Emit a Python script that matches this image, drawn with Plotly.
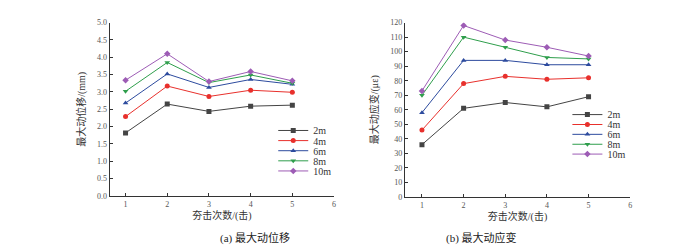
import plotly.graph_objects as go

hits = [1, 2, 3, 4, 5]
series_names = ["2m", "4m", "6m", "8m", "10m"]

disp_2m = [1.82, 2.65, 2.44, 2.59, 2.62]
disp_4m = [2.29, 3.17, 2.87, 3.05, 2.99]
disp_6m = [2.68, 3.52, 3.13, 3.36, 3.22]
disp_8m = [3.02, 3.85, 3.27, 3.49, 3.25]
disp_10m = [3.34, 4.10, 3.30, 3.59, 3.32]

strain_2m = [36, 61, 65, 62, 69]
strain_4m = [46, 78, 83, 81, 82]
strain_6m = [58, 94, 94, 91, 91]
strain_8m = [70, 110, 103, 96, 95]
strain_10m = [73, 118, 108, 103, 97]

x_ticks = [1, 2, 3, 4, 5, 6]

colors = ["#444444", "#e8302c", "#2d4b9e", "#2f9e4c", "#9d5cb5"]
symbols = ["square", "circle", "triangle-up", "triangle-down", "diamond"]

disp = [disp_2m, disp_4m, disp_6m, disp_8m, disp_10m]
strain = [strain_2m, strain_4m, strain_6m, strain_8m, strain_10m]

FONT = "Liberation Serif, Noto Sans CJK SC, serif"
H = 245

fig = go.Figure()
legends = {}
left_rows = [123, 133.5, 144, 154.5, 165]
right_rows = [106.5, 116.8, 127, 137.3, 147.5]

for i, (name, ys, c, s) in enumerate(zip(series_names, disp, colors, symbols)):
    lg = f"legend{i+2}"
    fig.add_trace(go.Scatter(x=hits, y=ys, name=name, mode="lines+markers",
                             line=dict(color=c, width=1),
                             marker=dict(symbol=s, size=5, color=c),
                             xaxis="x", yaxis="y", legend=lg, showlegend=True))
    legends[lg] = dict(x=266/700, y=1 - left_rows[i]/H, xanchor="left", yanchor="middle",
                       font=dict(size=10, family=FONT, color="#333333"),
                       bgcolor="rgba(0,0,0,0)", itemwidth=30)
for i, (name, ys, c, s) in enumerate(zip(series_names, strain, colors, symbols)):
    lg = f"legend{i+7}"
    fig.add_trace(go.Scatter(x=hits, y=ys, name=name, mode="lines+markers",
                             line=dict(color=c, width=1),
                             marker=dict(symbol=s, size=5, color=c),
                             xaxis="x2", yaxis="y2", legend=lg, showlegend=True))
    legends[lg] = dict(x=561/700, y=1 - right_rows[i]/H, xanchor="left", yanchor="middle",
                       font=dict(size=10, family=FONT, color="#333333"),
                       bgcolor="rgba(0,0,0,0)", itemwidth=30)

axis_common = dict(showline=True, linecolor="#333333", linewidth=1,
                   ticks="inside", ticklen=3, tickcolor="#333333",
                   showgrid=False, zeroline=False,
                   tickfont=dict(family=FONT, size=8, color="#555555"))

fig.update_layout(
    width=700, height=245,
    margin=dict(l=0, r=0, t=0, b=0),
    paper_bgcolor="white", plot_bgcolor="white",
    font=dict(family=FONT, color="#333333"),
    showlegend=True,
    xaxis=dict(domain=[0.1457, 0.4671], range=[0.62, 6], tickvals=x_ticks,
               title=dict(text="夯击次数/(击)", font=dict(size=10), standoff=0),
               anchor="y", **axis_common),
    yaxis=dict(domain=[0.2204, 0.9551], range=[0, 5], dtick=0.5, tickformat=".1f",
               title=dict(text="最大动位移/(mm)", font=dict(size=10), standoff=9),
               anchor="x", **axis_common),
    xaxis2=dict(domain=[0.5686, 0.8914], range=[0.59, 6], tickvals=x_ticks,
                title=dict(text="夯击次数/(击)", font=dict(size=10), standoff=0),
                anchor="y2", **axis_common),
    yaxis2=dict(domain=[0.2163, 0.9551], range=[0, 120], dtick=10,
                title=dict(text="最大动应变/(με)", font=dict(size=10), standoff=9),
                anchor="x2", **axis_common),
    annotations=[
        dict(text="(a) 最大动位移", x=211/700, y=1-235/245, xref="paper", yref="paper",
             yanchor="middle", showarrow=False, font=dict(size=11, family=FONT, color="#222222")),
        dict(text="(b) 最大动应变", x=512/700, y=1-235/245, xref="paper", yref="paper",
             yanchor="middle", showarrow=False, font=dict(size=11, family=FONT, color="#222222")),
    ],
    **legends,
)

fig.write_html("out.html")
